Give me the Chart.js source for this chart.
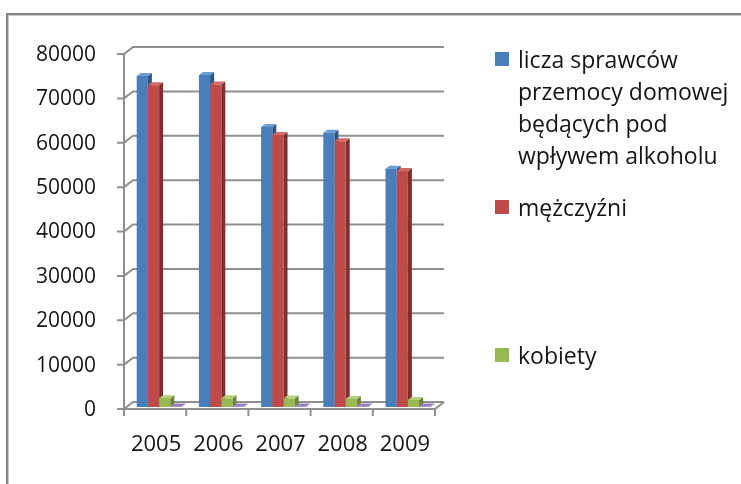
<!DOCTYPE html>
<html>
<head>
<meta charset="utf-8">
<script src="https://cdn.jsdelivr.net/npm/chart.js@4.4.1/dist/chart.umd.min.js"></script>
<style>
  html, body { margin: 0; padding: 0; background: #fff; }
  #wrap { position: relative; width: 741px; height: 484px; overflow: hidden; }
  #frame {
    position: absolute; left: 6px; top: 13px; width: 900px; height: 700px;
    border-top: 2px solid #878787; border-left: 2px solid #878787;
    box-shadow: inset 1px 1px 0 #c9c9c9;
  }
  #chart { position: absolute; left: 0; top: 0; }
  #legend { position: absolute; left: 0; top: 0; font-family: "Open Sans", sans-serif;
    font-size: 23px; line-height: 32px; color: #151515; }
  .item { position: absolute; left: 495px; display: flex; white-space: nowrap; }
  .item:nth-child(1) { top: 43px; }
  .item:nth-child(2) { top: 191px; }
  .item:nth-child(3) { top: 339px; }
  .box { width: 14px; height: 14px; margin: 9px 9px 0 0; flex: none; }
</style>
</head>
<body>
<div id="wrap">
  <div id="frame"></div>
  <canvas id="chart" width="741" height="484"></canvas>
  <div id="legend"></div>
</div>
<script>
// years on the x axis
const YEARS = ["2005", "2006", "2007", "2008", "2009"];

// series
const OFFENDERS = [74600, 74800, 63100, 61800, 53700];
const MEN = [72500, 72700, 61300, 59900, 53200];
const WOMEN = [2000, 1950, 1900, 1800, 1600];
const OTHER = [100, 100, 100, 100, 100];

const SERIES_NAMES = [
  ["licza sprawców", "przemocy domowej", "będących pod", "wpływem alkoholu"],
  ["mężczyźni"],
  ["kobiety"],
  null, // 4th series has no legend entry in the picture
];

const Y_MIN = 0;
const Y_MAX = 80000;
const Y_STEP = 10000;

// front / side / top colours for the fake 3D columns
const FACES = [
  { front: "#4a7ebb", side: "#2f5584", top: "#6d9bd3" },
  { front: "#be4b48", side: "#7f2f2d", top: "#d26b68" },
  { front: "#98b954", side: "#6b8636", top: "#b4d07a" },
  { front: "#7d60a0", side: "#573f75", top: "#9a80bd" },
];

const GRID = "#8f8f8f";
const TEXT = "#151515";
const DEPTH = { dx: 4, dy: -3 };   // column depth
const FRONT = { dx: -4, dy: 2 };   // axis plane in front of columns
const BACK = { dx: 5, dy: -5 };    // back wall behind columns

// draws walls, floor, ticks and the side/top faces of each column
const fake3d = {
  id: "fake3d",
  beforeDatasetsDraw(chart) {
    const { ctx, chartArea: a, scales } = chart;
    const y = scales.y, x = scales.x;
    ctx.save();
    ctx.strokeStyle = GRID;
    ctx.lineWidth = 2;
    ctx.lineCap = "butt";

    for (let v = Y_MIN; v <= Y_MAX; v += Y_STEP) {
      const yy = y.getPixelForValue(v);
      ctx.beginPath();
      ctx.moveTo(a.left + FRONT.dx - 7, yy + FRONT.dy);
      ctx.lineTo(a.left + FRONT.dx, yy + FRONT.dy);
      ctx.lineTo(a.left + BACK.dx, yy + BACK.dy);
      ctx.lineTo(a.right + BACK.dx, yy + BACK.dy);
      ctx.stroke();
    }

    const y0 = y.getPixelForValue(Y_MIN);
    const yTop = y.getPixelForValue(Y_MAX);
    ctx.beginPath();
    ctx.moveTo(a.left + FRONT.dx, yTop + FRONT.dy);
    ctx.lineTo(a.left + FRONT.dx, y0 + FRONT.dy);
    ctx.lineTo(a.right + FRONT.dx, y0 + FRONT.dy);
    ctx.lineTo(a.right + BACK.dx, y0 + BACK.dy);
    ctx.stroke();

    const n = x.ticks.length;
    const step = (a.right - a.left) / n;
    for (let k = 0; k <= n; k++) {
      const xx = a.left + FRONT.dx + k * step;
      ctx.beginPath();
      ctx.moveTo(xx, y0 + FRONT.dy);
      ctx.lineTo(xx, y0 + FRONT.dy + 7);
      ctx.stroke();
    }

    chart.data.datasets.forEach((ds, i) => {
      const f = FACES[i];
      chart.getDatasetMeta(i).data.forEach((bar) => {
        const p = bar.getProps(["x", "y", "width", "base"], true);
        const l = p.x - p.width / 2, r = p.x + p.width / 2;
        ctx.fillStyle = f.side;
        ctx.beginPath();
        ctx.moveTo(r, p.y);
        ctx.lineTo(r + DEPTH.dx, p.y + DEPTH.dy);
        ctx.lineTo(r + DEPTH.dx, p.base + DEPTH.dy);
        ctx.lineTo(r, p.base);
        ctx.closePath();
        ctx.fill();
        ctx.fillStyle = f.top;
        ctx.beginPath();
        ctx.moveTo(l, p.y);
        ctx.lineTo(l + DEPTH.dx, p.y + DEPTH.dy);
        ctx.lineTo(r + DEPTH.dx, p.y + DEPTH.dy);
        ctx.lineTo(r, p.y);
        ctx.closePath();
        ctx.fill();
      });
    });
    ctx.restore();
  },
};

const VALUES = [OFFENDERS, MEN, WOMEN, OTHER];

new Chart(document.getElementById("chart"), {
  type: "bar",
  data: {
    labels: YEARS,
    datasets: VALUES.map((vals, i) => ({
      label: SERIES_NAMES[i] ? SERIES_NAMES[i].join(" ") : "",
      data: vals,
      backgroundColor: FACES[i].front,
      borderWidth: 0,
      barPercentage: 1,
      categoryPercentage: 0.72,
    })),
  },
  options: {
    responsive: false,
    animation: false,
    devicePixelRatio: 1,
    layout: { padding: { left: 0, top: 52, right: 302, bottom: 0 } },
    plugins: { legend: { display: false }, tooltip: { enabled: false } },
    scales: {
      x: {
        grid: { display: false, drawTicks: false },
        border: { display: false },
        ticks: { color: TEXT, font: { family: "'Open Sans'", size: 22 }, padding: 25, labelOffset: -3 },
        afterFit(s) { s.height = 77; },
      },
      y: {
        min: Y_MIN,
        max: Y_MAX,
        grid: { display: false, drawTicks: false },
        border: { display: false },
        ticks: {
          stepSize: Y_STEP, color: TEXT, font: { family: "'Open Sans'", size: 21 },
          padding: 32, labelOffset: 3,
          callback: (v) => String(v),
        },
        afterFit(s) { s.width = 128; },
      },
    },
  },
  plugins: [fake3d],
});

// legend on the right, with the wrapped first label
const legend = document.getElementById("legend");
SERIES_NAMES.forEach((lines, i) => {
  if (!lines) return;
  const item = document.createElement("div");
  item.className = "item";
  item.innerHTML = `<span class="box" style="background:${FACES[i].front}"></span>` +
    `<span>${lines.join("<br>")}</span>`;
  legend.appendChild(item);
});
</script>
</body>
</html>
